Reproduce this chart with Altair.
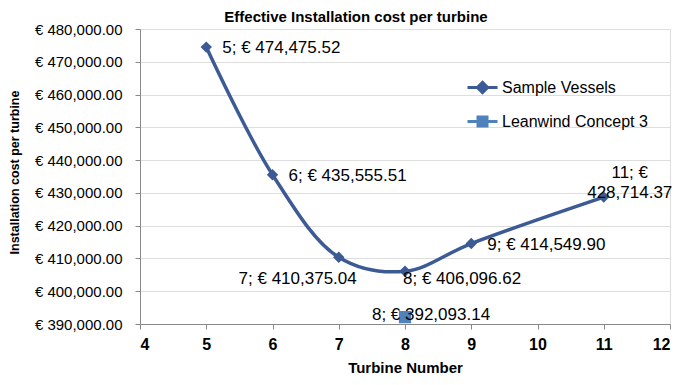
import altair as alt
import pandas as pd

# ---- data ----
turbines = [5, 6, 7, 8, 9, 11]
sample_cost = [474475.52, 435555.51, 410375.04, 406096.62, 414549.90, 428714.37]
lean_turbines = [8]
lean_cost = [392093.14]
series_names = ["Sample Vessels", "Leanwind Concept 3"]
series_colors = ["#3C5A94", "#4F81BD"]

sv = pd.DataFrame({"x": turbines, "y": sample_cost, "series": series_names[0]})
lw = pd.DataFrame({"x": lean_turbines, "y": lean_cost, "series": series_names[1]})

FONT = "Liberation Sans"
GRID = "#8C8C8C"

xs = alt.Scale(domain=[4, 12], nice=False)
ys = alt.Scale(domain=[390000, 480000], nice=False, zero=False)

X = alt.X("x:Q", scale=xs, title="Turbine Number",
          axis=alt.Axis(values=list(range(4, 13)), grid=False, tickSize=5,
                        labelPadding=7, titlePadding=8, labelFontWeight="bold",
                        labelFontSize=16, titleFontSize=15, titleFontWeight="bold"))
Y = alt.Y("y:Q", scale=ys, title="Installation cost per turbine",
          axis=alt.Axis(values=list(range(390000, 480001, 10000)), tickSize=5,
                        labelPadding=13, labelFontSize=15,
                        labelExpr="'€ ' + format(datum.value, ',.2f')",
                        titleFontSize=12.5, titleFontWeight="bold",
                        titleX=-119, titleY=143))

base_sv = alt.Chart(sv)
base_lw = alt.Chart(lw)

line = base_sv.mark_line(interpolate="catmull-rom", strokeWidth=3.5,
                         color=series_colors[0]).encode(x=X, y=Y)
pts_sv = base_sv.mark_point(shape="diamond", filled=True, size=130, opacity=1,
                            color=series_colors[0]).encode(x=X, y=Y)
pts_lw = base_lw.mark_point(shape="square", filled=True, size=150, opacity=1,
                            color=series_colors[1]).encode(x=X, y=Y)

LBL = "datum.x + ';  € ' + format(datum.y, ',.2f')"

def lbl(base, cond, align, dx, dy, expr=LBL):
    return base.transform_filter(cond).transform_calculate(label=expr).mark_text(
        align=align, baseline="middle", dx=dx, dy=dy, font=FONT, fontSize=17,
        lineHeight=20, color="black").encode(x=X, y=Y, text="label:N")

t_right = lbl(base_sv, "datum.x == 5 || datum.x == 6 || datum.x == 9", "left", 16, 1)
t_7 = lbl(base_sv, "datum.x == 7", "right", 18, 22)
t_8 = lbl(base_sv, "datum.x == 8", "left", -2, 8)
t_11 = lbl(base_sv, "datum.x == 11", "center", 26, -24,
           expr="[datum.x + ';  €', format(datum.y, ',.2f')]")
t_lw = lbl(base_lw, "true", "center", 26, -2)

# legend-only layer (draws no marks)
shape_paths = [
    "M-1,0L1,0M0,-0.34L0.34,0L0,0.34L-0.34,0Z",
    "M-1,0L1,0M-0.3,-0.3L0.3,-0.3L0.3,0.3L-0.3,0.3Z",
]
legend = alt.Legend(title=None, orient="none", legendX=326, legendY=42,
                    symbolSize=900, symbolStrokeWidth=3, labelFontSize=16,
                    labelFont=FONT, labelOffset=3, rowPadding=6,
                    symbolOpacity=1)
leg = base_sv.transform_filter("false").mark_point(filled=True).encode(
    x=X, y=Y,
    fill=alt.Fill("series:N", scale=alt.Scale(domain=series_names, range=series_colors), legend=legend),
    stroke=alt.Stroke("series:N", scale=alt.Scale(domain=series_names, range=series_colors), legend=legend),
    shape=alt.Shape("series:N", scale=alt.Scale(domain=series_names, range=shape_paths), legend=legend),
)

chart = alt.layer(line, pts_sv, pts_lw, t_right, t_7, t_8, t_11, t_lw, leg).properties(
    width=530, height=295,
    title=alt.TitleParams("Effective Installation cost  per turbine", fontSize=15,
                          fontWeight="bold", font=FONT, dx=-49, offset=-3),
    autosize=alt.AutoSizeParams(type="none"),
    padding={"left": 132, "top": 21, "right": 6, "bottom": 52},
).configure_axis(
    domainColor=GRID, tickColor=GRID, gridColor=GRID, labelFont=FONT,
    titleFont=FONT, labelColor="black", titleColor="black",
).configure_view(stroke=None).configure(background="white")

chart.save("out.html", embed_options={"renderer": "svg", "actions": False})
